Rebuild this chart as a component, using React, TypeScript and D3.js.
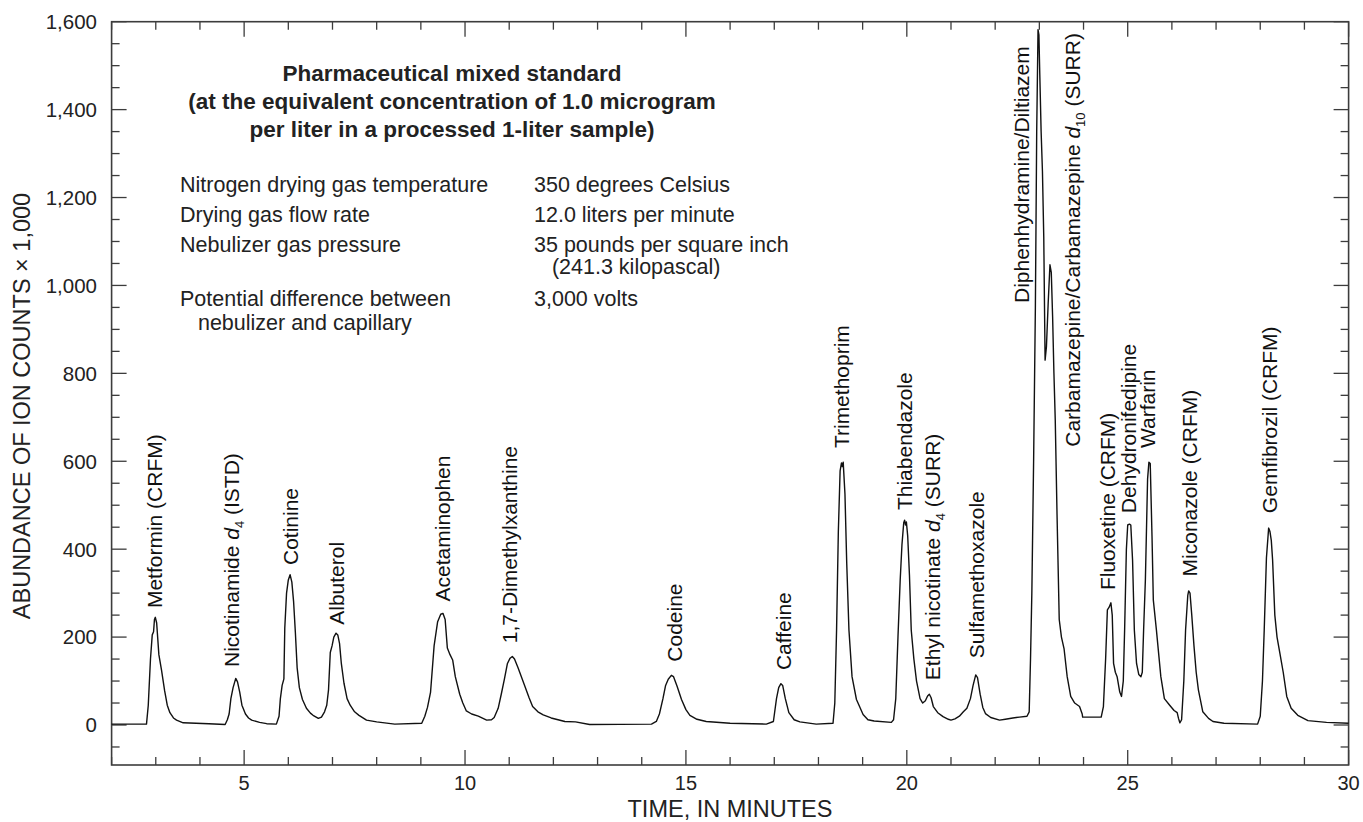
import React from "react";
import * as d3 from "d3";

// Chromatogram trace: retention time (minutes) and abundance (ion counts x 1,000)
const timeMin = [
  2.0, 2.79, 2.83, 2.88, 2.92, 2.95, 2.97, 2.99, 3.02, 3.07, 3.13, 3.2, 3.26, 3.32, 3.4, 3.47, 3.62, 4.2, 4.57,
  4.62, 4.66, 4.7, 4.75, 4.81, 4.85, 4.9, 4.95, 5.03, 5.1, 5.17, 5.35, 5.51, 5.73,
  5.79, 5.82, 5.86, 5.9, 5.92, 5.96, 6.0, 6.04, 6.08, 6.12, 6.16, 6.2, 6.25, 6.32, 6.41, 6.5, 6.56, 6.68, 6.75, 6.82, 6.87,
  6.91, 6.95, 6.99, 7.03, 7.08, 7.12, 7.16, 7.2, 7.26, 7.33, 7.4, 7.5, 7.6, 7.77, 8.0, 8.41, 9.02,
  9.09, 9.15, 9.22, 9.3, 9.38, 9.45, 9.5, 9.55, 9.6, 9.66, 9.72, 9.78, 9.88, 9.95, 10.03, 10.15, 10.3, 10.49, 10.6, 10.66,
  10.75, 10.82, 10.89, 10.96, 11.02, 11.07, 11.12, 11.2, 11.34, 11.45, 11.53, 11.65, 11.77, 11.95, 12.26, 12.5, 12.82, 14.22,
  14.33, 14.4, 14.48, 14.54, 14.6, 14.67, 14.72, 14.8, 14.9, 15.0, 15.09, 15.25, 15.46, 16.0, 16.82,
  16.98, 17.05, 17.1, 17.15, 17.19, 17.25, 17.33, 17.45, 17.58, 17.95, 18.33,
  18.37, 18.41, 18.45, 18.49, 18.52, 18.54, 18.56, 18.6, 18.64, 18.69, 18.76, 18.86, 19.01, 19.12, 19.26, 19.65,
  19.7, 19.75, 19.8, 19.85, 19.89, 19.93, 19.95, 19.97, 19.99, 20.02, 20.06, 20.1, 20.16, 20.22, 20.3, 20.36,
  20.42, 20.47, 20.51, 20.55, 20.6, 20.7, 20.82, 20.94, 21.0, 21.09, 21.19, 21.28, 21.36,
  21.44, 21.5, 21.56, 21.6, 21.66, 21.72, 21.78, 21.9, 22.1, 22.23, 22.4, 22.55, 22.72,
  22.77, 22.8, 22.83, 22.87, 22.91, 22.94, 22.97, 22.99, 23.01, 23.04, 23.07, 23.1, 23.12, 23.13,
  23.16, 23.2, 23.24, 23.27, 23.3, 23.33, 23.36, 23.4, 23.45, 23.5, 23.56, 23.63, 23.71, 23.8, 23.91, 23.97, 23.98, 24.4,
  24.45, 24.5, 24.54, 24.58, 24.6, 24.62, 24.65, 24.68, 24.72, 24.76, 24.82, 24.86,
  24.9, 24.93, 24.97, 25.0, 25.04, 25.07, 25.11, 25.15, 25.2, 25.25, 25.3, 25.33,
  25.36, 25.4, 25.45, 25.48, 25.51, 25.55, 25.58, 25.65, 25.75, 25.83, 25.95, 26.05, 26.12, 26.15, 26.18,
  26.22, 26.27, 26.31, 26.36, 26.38, 26.41, 26.45, 26.5, 26.55, 26.6, 26.65, 26.7, 26.83, 26.93, 27.18, 27.94,
  28.0, 28.05, 28.09, 28.14, 28.19, 28.22, 28.25, 28.28, 28.33, 28.38, 28.45, 28.52, 28.6, 28.7, 28.85, 29.08, 29.5, 30.0,
];
const abundance = [
  2, 2, 45, 150, 205, 212, 240, 245, 232, 160, 125, 78, 45, 28, 16, 11, 5, 3, 1,
  12, 25, 60, 85, 106, 98, 75, 45, 25, 16, 11, 6, 3, 2,
  20, 60, 90, 105, 220, 300, 330, 342, 325, 280, 210, 130, 85, 58, 38, 27, 22, 15, 18, 30, 45,
  80, 165, 180, 200, 209, 205, 185, 140, 95, 60, 45, 30, 22, 11, 7, 2, 4,
  20, 40, 75, 180, 235, 252, 254, 240, 175, 160, 148, 110, 70, 50, 32, 25, 20, 11, 12, 17,
  38, 70, 104, 140, 152, 156, 150, 130, 92, 62, 42, 30, 23, 16, 8, 7, 1, 2,
  8, 25, 60, 90, 104, 113, 110, 88, 58, 35, 22, 13, 8, 4, 2,
  8, 60, 85, 94, 90, 60, 28, 12, 7, 2, 4,
  50, 216, 440, 578, 596, 588, 598, 525, 368, 216, 110, 58, 24, 12, 9, 6,
  12, 60, 200, 330, 410, 460, 466, 455, 462, 430, 340, 216, 150, 100, 60, 50,
  55, 66, 70, 62, 42, 28, 19, 13, 11, 14, 20, 30, 38,
  60, 90, 114, 108, 70, 40, 26, 17, 11, 13, 16, 18, 20,
  30, 150, 300, 600, 950, 1350, 1582, 1570, 1480, 1350, 1260, 1110, 920, 830,
  860, 960, 1047, 1030, 930, 800, 694, 480, 240, 200, 173, 110, 65, 50, 42, 25, 18, 18,
  42, 150, 262, 268, 273, 278, 250, 140, 120, 110, 75, 65,
  100, 216, 400, 455, 457, 455, 375, 216, 140, 115, 110, 120,
  216, 330, 560, 598, 595, 430, 284, 216, 110, 60, 45, 33, 28, 15, 5,
  12, 100, 216, 295, 305, 300, 250, 180, 120, 80, 55, 30, 15, 8, 4, 2,
  20, 100, 216, 380, 448, 440, 420, 375, 250, 200, 160, 120, 65, 38, 22, 10, 6, 4,
];

// Axis ticks
const xMajorTicks = [5, 10, 15, 20, 25, 30];
const xMinorTicks = d3.range(2, 31, 1);
const yMajorTicks = [0, 200, 400, 600, 800, 1000, 1200, 1400, 1600];
const yMinorTicks = d3.range(-50, 1601, 50);

// Peak labels: name parts, retention time, and abundance where the label starts
const labelNames = [
  ["Metformin (CRFM)"],
  ["Nicotinamide ", "d", "4", " (ISTD)"],
  ["Cotinine"],
  ["Albuterol"],
  ["Acetaminophen"],
  ["1,7-Dimethylxanthine"],
  ["Codeine"],
  ["Caffeine"],
  ["Trimethoprim"],
  ["Thiabendazole"],
  ["Ethyl nicotinate ", "d", "4", " (SURR)"],
  ["Sulfamethoxazole"],
  ["Diphenhydramine/Diltiazem"],
  ["Carbamazepine/Carbamazepine ", "d", "10", " (SURR)"],
  ["Fluoxetine (CRFM)"],
  ["Dehydronifedipine"],
  ["Warfarin"],
  ["Miconazole (CRFM)"],
  ["Gemfibrozil (CRFM)"],
];
const labelTimes = [2.98, 4.72, 6.06, 7.1, 9.5, 11.01, 14.75, 17.21, 18.52, 19.95, 20.58, 21.58, 22.6, 23.75, 24.54, 25.02, 25.45, 26.4, 28.21];
const labelLevels = [266, 132, 364, 228, 281, 186, 144, 125, 630, 489, 102, 152, 960, 633, 307, 482, 630, 338, 482];

const titleLines = [
  "Pharmaceutical mixed standard",
  "(at the equivalent concentration of 1.0 microgram",
  "per liter in a processed 1-liter sample)",
];
const paramNames = ["Nitrogen drying gas temperature", "Drying gas flow rate", "Nebulizer gas pressure", "", "Potential difference between", "   nebulizer and capillary"];
const paramValues = ["350 degrees Celsius", "12.0 liters per minute", "35 pounds per square inch", "   (241.3 kilopascal)", "3,000 volts", ""];

const W = 1363;
const H = 822;
const left = 111.6;
const right = 1348.6;
const top = 21.7;
const bottom = 765;
const FONT = "'Liberation Sans', Arial, Helvetica, sans-serif";

export default function App() {
  const x = d3.scaleLinear().domain([2, 30]).range([left, right]);
  const y = d3.scaleLinear().domain([-91, 1600]).range([bottom, top]);
  const line = d3
    .line<number>()
    .x((_, i) => x(timeMin[i]))
    .y((d) => y(d));
  const path = line(abundance) || "";

  const frameColor = "#3c3c3c";
  const paramRowY = [192, 222, 252, 274, 306, 330];

  return (
    <svg
      width={W}
      height={H}
      style={{ position: "absolute", left: 0, top: 0, background: "#fff" }}
      fontFamily={FONT}
    >
      <rect x={0} y={0} width={W} height={H} fill="#fff" />
      {/* ticks */}
      {xMinorTicks.map((t) => {
        const len = t % 5 === 0 ? 15 : 8;
        return (
          <g key={"xt" + t}>
            <line x1={x(t)} x2={x(t)} y1={bottom} y2={bottom - len} stroke={frameColor} strokeWidth={1.3} />
            <line x1={x(t)} x2={x(t)} y1={top} y2={top + len} stroke={frameColor} strokeWidth={1.3} />
          </g>
        );
      })}
      {yMinorTicks.map((v) => {
        const len = v % 200 === 0 ? 15 : 8;
        return (
          <g key={"yt" + v}>
            <line x1={left} x2={left + len} y1={y(v)} y2={y(v)} stroke={frameColor} strokeWidth={1.3} />
            <line x1={right} x2={right - len} y1={y(v)} y2={y(v)} stroke={frameColor} strokeWidth={1.3} />
          </g>
        );
      })}
      {/* frame */}
      <rect x={left} y={top} width={right - left} height={bottom - top} fill="none" stroke={frameColor} strokeWidth={1.6} />

      {/* tick labels */}
      {xMajorTicks.map((t) => (
        <text key={"xl" + t} x={x(t)} y={790} textAnchor="middle" fontSize={20} fill="#222">
          {t}
        </text>
      ))}
      {yMajorTicks.map((v) => (
        <text key={"yl" + v} x={97} y={y(v)} dy="0.36em" textAnchor="end" fontSize={20.5} fill="#222">
          {d3.format(",")(v)}
        </text>
      ))}

      {/* axis titles */}
      <text x={730} y={817} textAnchor="middle" fontSize={23.5} fill="#222">
        TIME, IN MINUTES
      </text>
      <text transform={`translate(30, 406) rotate(-90)`} textAnchor="middle" fontSize={23.5} fill="#222">
        ABUNDANCE OF ION COUNTS × 1,000
      </text>

      {/* trace */}
      <path d={path} fill="none" stroke="#111" strokeWidth={1.4} strokeLinejoin="round" />

      {/* peak labels */}
      {labelNames.map((parts, i) => {
        const px = x(labelTimes[i]);
        const py = y(labelLevels[i]);
        return (
          <text
            key={"pl" + i}
            transform={`translate(${px}, ${py}) rotate(-90)`}
            dy="0.34em"
            fontSize={21}
            fill="#111"
          >
            {parts.length === 1 ? (
              parts[0]
            ) : (
              <>
                <tspan>{parts[0]}</tspan>
                <tspan fontStyle="italic">{parts[1]}</tspan>
                <tspan fontSize={13} dy={5}>
                  {parts[2]}
                </tspan>
                <tspan dy={-5}>{parts[3]}</tspan>
              </>
            )}
          </text>
        );
      })}

      {/* title block */}
      {titleLines.map((s, i) => (
        <text key={"tt" + i} x={452} y={81 + i * 28} textAnchor="middle" fontSize={22.5} fontWeight="bold" fill="#222">
          {s}
        </text>
      ))}
      {paramNames.map((s, i) =>
        s ? (
          <text key={"pn" + i} x={180} y={paramRowY[i]} fontSize={21.5} fill="#222" style={{ whiteSpace: "pre" }}>
            {s}
          </text>
        ) : null
      )}
      {paramValues.map((s, i) =>
        s ? (
          <text key={"pv" + i} x={534} y={paramRowY[i]} fontSize={21.5} fill="#222" style={{ whiteSpace: "pre" }}>
            {s}
          </text>
        ) : null
      )}
    </svg>
  );
}
